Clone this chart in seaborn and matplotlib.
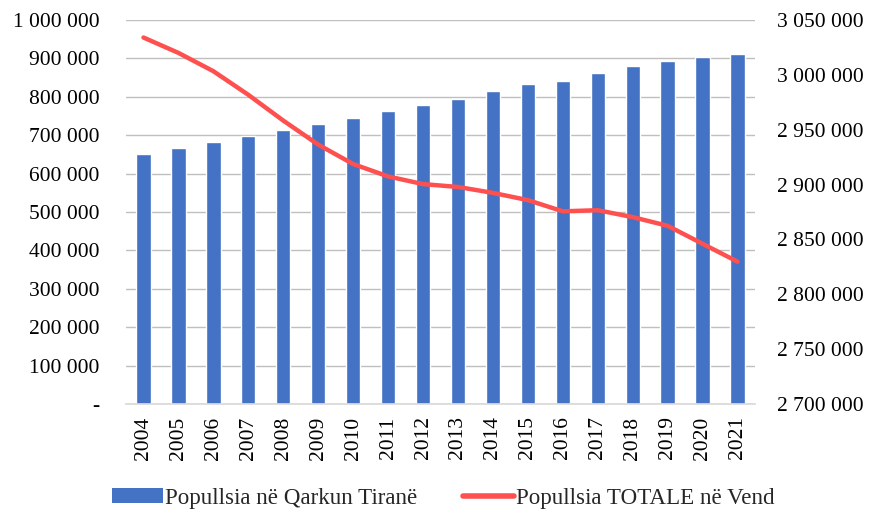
import numpy as np
import pandas as pd
import seaborn as sns
import matplotlib.pyplot as plt
from matplotlib.ticker import FuncFormatter, MultipleLocator
from matplotlib.patches import Patch
from matplotlib.lines import Line2D

# Data
years = [str(y) for y in range(2004, 2022)]
tirana = [650000, 666000, 682000, 698000, 714000, 730000, 746000, 762000, 779000,
          795000, 814000, 832000, 842000, 861000, 881000, 894000, 904000, 911000]
totale = [3034000, 3020000, 3003300, 2981800, 2958300, 2936400, 2918700, 2907400, 2900400,
          2897800, 2892400, 2885800, 2875600, 2876600, 2870300, 2862400, 2846000, 2829700]

df = pd.DataFrame({"viti": years, "tirana": tirana, "totale": totale})
df["pos"] = np.arange(len(years))

sns.set_theme(style="white")
plt.rcParams["font.family"] = ["Liberation Serif", "DejaVu Serif"]

blue = "#4472C4"
red = "#FF5050"
grid_c = "#BFBFBF"
fs = 15.5

fig = plt.figure(figsize=(8.73, 5.12), dpi=100)
ax = fig.add_axes([126 / 873, 0.211, 629 / 873, 0.75])

sns.barplot(data=df, x="viti", y="tirana", color=blue, width=0.41,
            saturation=1, ax=ax, zorder=2)

ax2 = ax.twinx()
sns.lineplot(data=df, x="pos", y="totale", color=red, linewidth=3.2, ax=ax2,
             solid_capstyle="round", zorder=3)

def fmt(v, p):
    if v == 0:
        return "-"
    return f"{int(round(v)):,}".replace(",", " ")

ax.set_ylim(0, 1000000)
ax.yaxis.set_major_locator(MultipleLocator(100000))
ax.yaxis.set_major_formatter(FuncFormatter(fmt))
ax2.set_ylim(2700000, 3050000)
ax2.yaxis.set_major_locator(MultipleLocator(50000))
ax2.yaxis.set_major_formatter(FuncFormatter(fmt))
ax.set_xlim(-0.5, len(years) - 0.5)
ax2.set_xlim(-0.5, len(years) - 0.5)

ax.yaxis.grid(True, color=grid_c, linewidth=1, zorder=0)
ax.set_axisbelow(True)
ax.set_xlabel("")
ax.set_ylabel("")
ax2.set_xlabel("")
ax2.set_ylabel("")

for a in (ax, ax2):
    for s in a.spines.values():
        s.set_visible(False)
    a.tick_params(length=0, labelsize=fs, colors="black")
ax.spines["bottom"].set_visible(True)
ax.spines["bottom"].set_color("#D9D9D9")
ax.tick_params(axis="x", rotation=90, pad=9)
ax.tick_params(axis="y", pad=19)
ax2.tick_params(axis="y", pad=16)

handles = [Patch(facecolor=blue, edgecolor="none"),
           Line2D([0], [0], color=red, linewidth=4)]
fig.legend(handles, ["Popullsia në Qarkun Tiranë", "Popullsia TOTALE në Vend"],
           loc="center", bbox_to_anchor=(0.508, 0.027), ncol=2, frameon=False,
           fontsize=16.6, handlelength=2.2, handleheight=0.6, columnspacing=2.0,
           handletextpad=0.1)

fig.savefig("out.png", dpi=100)
